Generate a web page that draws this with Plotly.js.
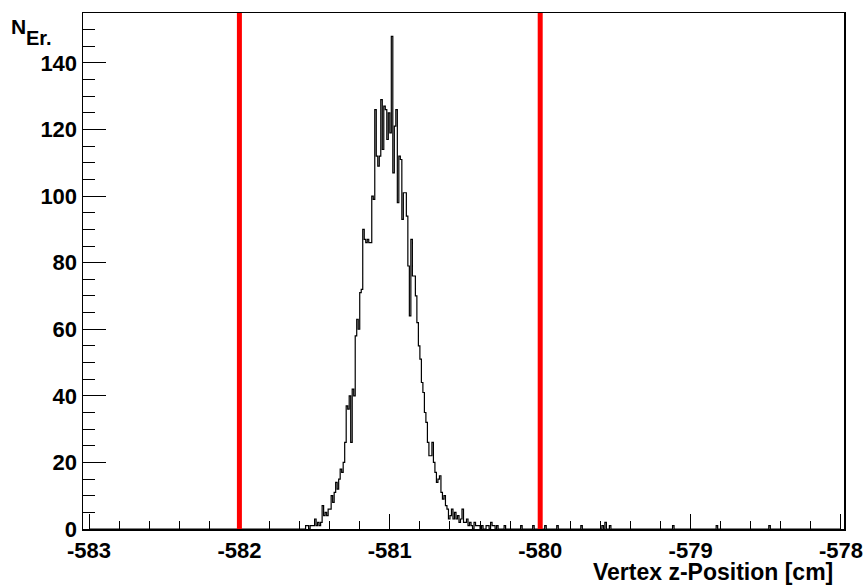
<!DOCTYPE html>
<html>
<head>
<meta charset="utf-8">
<script src="https://cdn.plot.ly/plotly-3.0.1.min.js"></script>
<style>html,body{margin:0;padding:0;background:#fff;}#chart{width:867px;height:586px;}</style>
</head>
<body>
<div id="chart"></div>
<script>
// Histogram: vertex z-position, bin width 0.01 cm
const histMin = -583.0;
const histMax = -578.0;
const binWidth = 0.01;

// contiguous core counts, first bin lower edge = coreStart
const coreStart = -581.56;
const coreCounts = [
  1, 1, 0, 1, 1, 1, 3, 1, 2, 1,
  2, 7, 4, 5, 4, 6, 6, 10, 8, 11,
  14, 12, 15, 18, 17, 20, 26, 37, 36, 40,
  26, 42, 40, 58, 63, 60, 71, 72, 90, 87,
  86, 87, 86, 86, 100, 99, 126, 112, 109, 112,
  129, 114, 127, 126, 117, 125, 119, 148, 107, 121,
  126, 98, 112, 111, 93, 101, 101, 94, 79, 64,
  87, 76, 76, 70, 62, 55, 51, 44, 41, 35,
  32, 26, 22, 22, 26, 20, 17, 14, 15, 16,
  11, 9, 10, 7, 6, 3, 4, 6, 3, 5,
  3, 4, 2, 3, 6, 2, 2, 3, 1, 2,
  1, 0, 2, 1, 1, 1, 0, 1, 0, 0,
  1, 1, 0, 2, 1, 1, 0, 1
];

// sparse tail bins (lower edge, count)
const tailLow = [-580.24, -580.13, -580.05, -579.97, -579.89, -579.73, -579.59, -579.57, -579.54, -579.12, -578.83, -578.48];
const tailCounts = [1, 1, 1, 1, 1, 1, 1, 2, 1, 1, 1, 1];

// cut lines
const cutPositions = [-582.0, -580.0];

// axis ticks
const xTickVals = [-583, -582, -581, -580, -579, -578];
const yTickVals = [0, 20, 40, 60, 80, 100, 120, 140];

// ---- build full histogram ----
const nBins = Math.round((histMax - histMin) / binWidth);
const counts = new Array(nBins).fill(0);
const idxOf = v => Math.round((v - histMin) / binWidth);
coreCounts.forEach((c, i) => { counts[idxOf(coreStart) + i] = c; });
tailLow.forEach((v, i) => { counts[idxOf(v)] = tailCounts[i]; });

const xs = [histMin], ys = [0];
for (let i = 0; i < nBins; i++) {
  xs.push(histMin + i * binWidth);
  ys.push(counts[i]);
}
xs.push(histMax); ys.push(counts[nBins - 1]);
xs.push(histMax); ys.push(0);

const fam = 'Liberation Sans, Arial, sans-serif';
const font = {family: fam, size: 22, color: '#000', weight: 'bold'};

const trace = {
  type: 'scatter', mode: 'lines', x: xs, y: ys,
  line: {shape: 'hv', color: '#000', width: 1.2},
  hoverinfo: 'skip', showlegend: false
};

const shapes = cutPositions.map(p => ({
  type: 'line', xref: 'x', yref: 'paper', x0: p, x1: p, y0: 0, y1: 1,
  line: {color: '#ff0000', width: 5}, layer: 'above'
}));

const layout = {
  width: 867, height: 586,
  margin: {l: 83, r: 23, t: 13, b: 57, pad: 0},
  paper_bgcolor: '#fff', plot_bgcolor: '#fff',
  showlegend: false,
  xaxis: {
    range: [-583.04, -577.98], showgrid: false, zeroline: false,
    showline: true, linecolor: '#000', linewidth: 1.5, mirror: true,
    tickmode: 'array', tickvals: xTickVals, ticktext: xTickVals.map(v => String(v)),
    ticks: 'inside', ticklen: 15, tickwidth: 1, tickcolor: '#000',
    minor: {tickmode: 'linear', tick0: -583, dtick: 0.2, ticks: 'inside', ticklen: 8, tickwidth: 1, tickcolor: '#000', showgrid: false},
    tickfont: font, ticklabelstandoff: 1
  },
  yaxis: {
    range: [0, 155], showgrid: false, zeroline: false,
    showline: true, linecolor: '#000', linewidth: 1.5, mirror: true,
    tickmode: 'array', tickvals: yTickVals, ticktext: yTickVals.map(v => String(v)),
    ticks: 'inside', ticklen: 23, tickwidth: 1, tickcolor: '#000',
    minor: {tickmode: 'linear', tick0: 0, dtick: 5, ticks: 'inside', ticklen: 12, tickwidth: 1, tickcolor: '#000', showgrid: false},
    tickfont: font, ticklabelstandoff: 0
  },
  shapes: shapes,
  annotations: [
    {xref: 'paper', yref: 'paper', x: 0.988, y: -0.084, xanchor: 'right', yanchor: 'middle',
     text: 'Vertex z-Position [cm]', showarrow: false, font: {family: fam, size: 23, color: '#000', weight: 'bold'}},
    {xref: 'paper', yref: 'paper', x: -0.097, y: 0.974, xanchor: 'left', yanchor: 'middle',
     text: 'N', showarrow: false, font: {family: fam, size: 21, color: '#000', weight: 'bold'}},
    {xref: 'paper', yref: 'paper', x: -0.077, y: 0.952, xanchor: 'left', yanchor: 'middle',
     text: 'Er.', showarrow: false, font: {family: fam, size: 20, color: '#000', weight: 'bold'}}
  ]
};

Plotly.newPlot('chart', [trace], layout, {staticPlot: true, displayModeBar: false});
</script>
</body>
</html>
